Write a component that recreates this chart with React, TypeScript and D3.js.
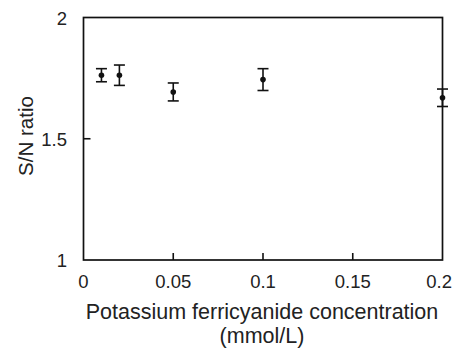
import * as d3 from "d3";
import { useEffect, useRef } from "react";

// Potassium ferricyanide concentration (mmol/L)
const concentrations = [0.01, 0.02, 0.05, 0.1, 0.2];
// S/N ratio means and error half-widths
const snRatio = [1.762, 1.762, 1.693, 1.744, 1.669];
const snError = [0.027, 0.042, 0.037, 0.045, 0.036];

const xTicks = [0, 0.05, 0.1, 0.15, 0.2];
const xTickLabels = ["0", "0.05", "0.1", "0.15", "0.2"];
const yTicks = [1, 1.5, 2];
const yTickLabels = ["1", "1.5", "2"];

const W = 453;
const H = 348;
const FONT = "'Liberation Sans', Arial, Helvetica, sans-serif";

export default function App() {
  const svgRef = useRef<SVGSVGElement>(null);

  useEffect(() => {
    if (!svgRef.current) return;
    const svg = d3.select(svgRef.current);
    svg.selectAll("*").remove();

    const left = 83.5, right = 442.5, top = 17.5, bottom = 260;
    const x = d3.scaleLinear().domain([0, 0.2]).range([left, right]);
    const y = d3.scaleLinear().domain([1, 2]).range([bottom, top]);

    const pts = concentrations.map((c, i) => ({ c, v: snRatio[i], e: snError[i] }));

    // frame
    svg.append("rect")
      .attr("x", left).attr("y", top)
      .attr("width", right - left).attr("height", bottom - top)
      .attr("fill", "none").attr("stroke", "#111").attr("stroke-width", 1.7);

    // inward ticks
    const tickLen = 7;
    svg.append("g").selectAll("line").data(xTicks.slice(1, -1)).enter().append("line")
      .attr("x1", (d) => x(d)).attr("x2", (d) => x(d))
      .attr("y1", bottom).attr("y2", bottom - tickLen)
      .attr("stroke", "#111").attr("stroke-width", 1.6);
    svg.append("g").selectAll("line").data(yTicks.slice(1, -1)).enter().append("line")
      .attr("x1", left).attr("x2", left + tickLen)
      .attr("y1", (d) => y(d)).attr("y2", (d) => y(d))
      .attr("stroke", "#111").attr("stroke-width", 1.6);

    // tick labels (last one kept inside the picture, as in the original)
    const last = xTicks.length - 1;
    svg.append("g").selectAll("text").data(xTicks).enter().append("text")
      .attr("x", (d, i) => (i === last ? W - 1 : x(d)))
      .attr("y", 288)
      .attr("text-anchor", (_, i) => (i === last ? "end" : "middle"))
      .attr("font-family", FONT).attr("font-size", 18.5).attr("fill", "#222")
      .text((_, i) => xTickLabels[i]);
    svg.append("g").selectAll("text").data(yTicks).enter().append("text")
      .attr("x", 67).attr("y", (d) => y(d) + 7)
      .attr("text-anchor", "end")
      .attr("font-family", FONT).attr("font-size", 18.5).attr("fill", "#222")
      .text((_, i) => yTickLabels[i]);

    // error bars
    const cap = 5.5;
    const eb = svg.append("g").attr("stroke", "#111").attr("stroke-width", 1.6);
    pts.forEach((p) => {
      const cx = x(p.c);
      eb.append("line").attr("x1", cx).attr("x2", cx).attr("y1", y(p.v + p.e)).attr("y2", y(p.v - p.e));
      eb.append("line").attr("x1", cx - cap).attr("x2", cx + cap).attr("y1", y(p.v + p.e)).attr("y2", y(p.v + p.e));
      eb.append("line").attr("x1", cx - cap).attr("x2", cx + cap).attr("y1", y(p.v - p.e)).attr("y2", y(p.v - p.e));
    });

    // points
    svg.append("g").selectAll("circle").data(pts).enter().append("circle")
      .attr("cx", (d) => x(d.c)).attr("cy", (d) => y(d.v))
      .attr("r", 2.8).attr("fill", "#111");

    // axis titles
    svg.append("text")
      .attr("x", 262).attr("y", 319)
      .attr("text-anchor", "middle")
      .attr("font-family", FONT).attr("font-size", 21.5).attr("fill", "#222")
      .text("Potassium ferricyanide concentration");
    svg.append("text")
      .attr("x", 262).attr("y", 343)
      .attr("text-anchor", "middle")
      .attr("font-family", FONT).attr("font-size", 21.5).attr("fill", "#222")
      .text("(mmol/L)");
    svg.append("text")
      .attr("transform", `translate(33,${136}) rotate(-90)`)
      .attr("text-anchor", "middle")
      .attr("font-family", FONT).attr("font-size", 20.5).attr("fill", "#222")
      .text("S/N ratio");
  }, []);

  return (
    <svg
      ref={svgRef}
      width={W}
      height={H}
      style={{ position: "absolute", left: 0, top: 0, background: "#fff" }}
    />
  );
}
